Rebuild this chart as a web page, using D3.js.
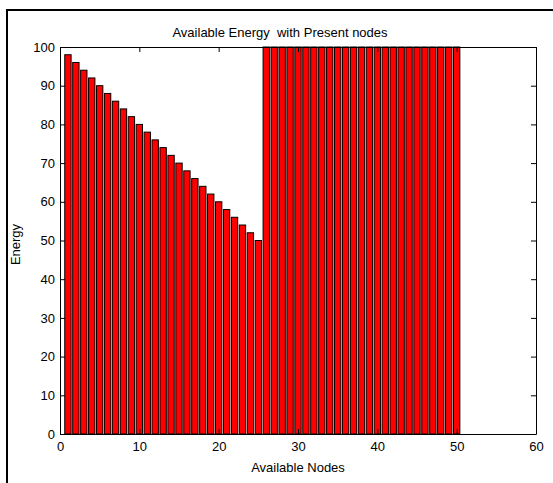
<!DOCTYPE html>
<html>
<head>
<meta charset="utf-8">
<script src="https://cdn.jsdelivr.net/npm/d3@7"></script>
<style>
  body { margin: 0; background: #fff; }
  svg text { font-family: "Liberation Sans", Arial, sans-serif; font-size: 13px; fill: #000; white-space: pre; }
</style>
</head>
<body>
<div id="chart"></div>
<script>
const width = 553;
const height = 483;
const margin = { top: 47, right: 17, bottom: 49, left: 60 };

const nodes = [1, 2, 3, 4, 5, 6, 7, 8, 9, 10, 11, 12, 13, 14, 15, 16, 17, 18, 19, 20, 21, 22, 23, 24, 25,
  26, 27, 28, 29, 30, 31, 32, 33, 34, 35, 36, 37, 38, 39, 40, 41, 42, 43, 44, 45, 46, 47, 48, 49, 50];
const energy = [98, 96, 94, 92, 90, 88, 86, 84, 82, 80, 78, 76, 74, 72, 70, 68, 66, 64, 62, 60, 58, 56, 54, 52, 50,
  100, 100, 100, 100, 100, 100, 100, 100, 100, 100, 100, 100, 100, 100, 100,
  100, 100, 100, 100, 100, 100, 100, 100, 100, 100];
const xTicks = [0, 10, 20, 30, 40, 50, 60];
const yTicks = [0, 10, 20, 30, 40, 50, 60, 70, 80, 90, 100];

const chartTitle = 'Available Energy  with Present nodes';
const xLabel = 'Available Nodes';
const yLabel = 'Energy';

const svg = d3.select('#chart')
  .append('svg')
  .attr('width', width)
  .attr('height', height);

// outer figure frame (cropped on the right and bottom)
svg.append('rect')
  .attr('x', 7)
  .attr('y', 10)
  .attr('width', width)
  .attr('height', height)
  .attr('fill', 'none')
  .attr('stroke', '#000')
  .attr('stroke-width', 2);

const x = d3.scaleLinear().domain([0, 60]).range([margin.left, width - margin.right]);
const y = d3.scaleLinear().domain([0, 100]).range([height - margin.bottom, margin.top]);
const barWidth = (x(0.8) - x(0));

svg.append('g')
  .selectAll('rect')
  .data(nodes)
  .enter()
  .append('rect')
  .attr('x', (d) => x(d - 0.4))
  .attr('y', (d, i) => y(energy[i]))
  .attr('width', barWidth)
  .attr('height', (d, i) => y(0) - y(energy[i]))
  .attr('fill', '#ff0000')
  .attr('stroke', '#000')
  .attr('stroke-width', 1);

const tickLen = 5;
const fmt = d3.format('d');

// ticks point inward, on all four sides
const bottomAxis = d3.axisBottom(x).tickValues(xTicks).tickFormat(fmt).tickSizeInner(-tickLen).tickSizeOuter(0).tickPadding(8);
const topAxis = d3.axisTop(x).tickValues(xTicks).tickFormat('').tickSizeInner(-tickLen).tickSizeOuter(0);
const leftAxis = d3.axisLeft(y).tickValues(yTicks).tickFormat(fmt).tickSizeInner(-tickLen).tickSizeOuter(0).tickPadding(5);
const rightAxis = d3.axisRight(y).tickValues(yTicks).tickFormat('').tickSizeInner(-tickLen).tickSizeOuter(0);

[
  [bottomAxis, `translate(0, ${y(0)})`],
  [topAxis, `translate(0, ${y(100)})`],
  [leftAxis, `translate(${x(0)}, 0)`],
  [rightAxis, `translate(${x(60)}, 0)`],
].forEach(([axis, tr]) => {
  const g = svg.append('g')
    .attr('class', 'axis')
    .attr('transform', tr)
    .call(axis);
  g.selectAll('text').style('font-size', '13px').attr('fill', '#000').style('font-family', '"Liberation Sans", Arial, sans-serif');
  g.selectAll('line, path').attr('stroke', '#000');
});

svg.append('text')
  .attr('x', 280)
  .attr('y', 37)
  .attr('xml:space', 'preserve')
  .style('text-anchor', 'middle')
  .text(chartTitle);

svg.append('text')
  .attr('x', (x(0) + x(60)) / 2)
  .attr('y', 472)
  .style('text-anchor', 'middle')
  .text(xLabel);

svg.append('text')
  .attr('transform', `translate(20, ${(y(0) + y(100)) / 2 + 4}) rotate(-90)`)
  .style('text-anchor', 'middle')
  .text(yLabel);
</script>
</body>
</html>
